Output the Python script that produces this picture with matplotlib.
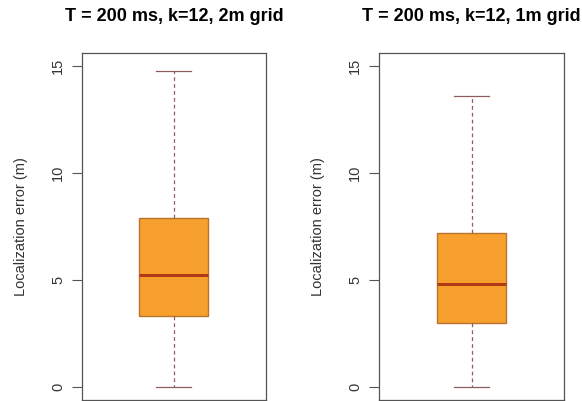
import matplotlib
matplotlib.use("Agg")
import matplotlib.pyplot as plt

plt.rcParams["font.family"] = ["Liberation Sans", "DejaVu Sans"]

# panel titles and box statistics
titles = ["T = 200 ms, k=12, 2m grid", "T = 200 ms, k=12, 1m grid"]
whislo = [0.0, 0.0]
q1 = [3.3, 3.0]
med = [5.25, 4.81]
q3 = [7.88, 7.2]
whishi = [14.77, 13.58]
yticks = [0, 5, 10, 15]

fill = "#F8A02D"
edge = "#B8742E"
median_col = "#B03A16"
whisk_col = "#8E5E5E"

fig = plt.figure(figsize=(5.82, 4.01), dpi=100)
positions = [[0.1409, 0.0025, 0.316, 0.8653], [0.6512, 0.0025, 0.318, 0.8653]]

for i in range(2):
    ax = fig.add_axes(positions[i])
    stats = [{
        "whislo": whislo[i], "q1": q1[i], "med": med[i],
        "q3": q3[i], "whishi": whishi[i], "fliers": [],
    }]
    ax.bxp(stats, positions=[1], widths=0.375, patch_artist=True,
           showfliers=False,
           boxprops=dict(facecolor=fill, edgecolor=edge, linewidth=1.0),
           medianprops=dict(color=median_col, linewidth=2.2),
           whiskerprops=dict(color=whisk_col, linewidth=0.9, linestyle=(0, (3, 2.5))),
           capprops=dict(color=whisk_col, linewidth=0.9),
           capwidths=0.19)
    ax.set_xlim(0.5, 1.5)
    ax.set_ylim(-0.6, 15.6)
    ax.set_xticks([])
    ax.set_yticks(yticks)
    ax.set_yticklabels([str(t) for t in yticks], rotation=90, va="center",
                       fontsize=10.5, color="#333333")
    ax.tick_params(axis="y", length=7, width=0.8, color="#555555", pad=5)
    for s in ax.spines.values():
        s.set_color("#555555")
        s.set_linewidth(0.9)
    ax.set_ylabel("Localization error (m)", fontsize=10.5, color="#333333", labelpad=17)
    ax.set_title(titles[i], fontsize=13, fontweight="bold", pad=23)

fig.savefig("out.png", dpi=100)
